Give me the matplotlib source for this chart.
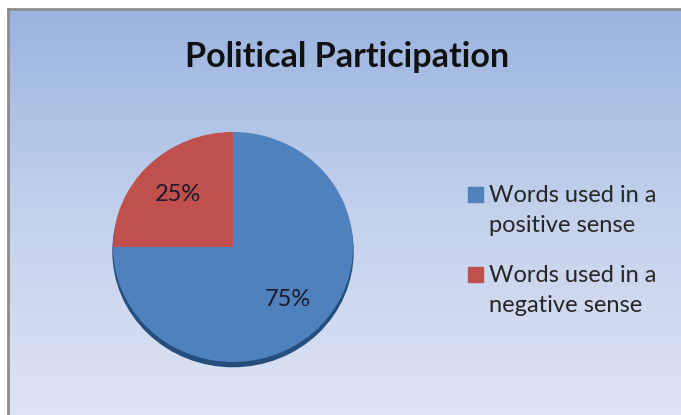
import matplotlib
matplotlib.use("Agg")
import matplotlib.pyplot as plt
import numpy as np
from matplotlib.patches import Ellipse, Rectangle
from matplotlib.colors import LinearSegmentedColormap

title = "Political Participation"
categories = ["Words used in a\npositive sense", "Words used in a\nnegative sense"]
values = [75, 25]
colors = ["#4F81BD", "#C0504D"]

W, H = 681, 415
fig = plt.figure(figsize=(W / 100, H / 100), dpi=100)
fig.patch.set_facecolor("white")

# background gradient panel
bg = fig.add_axes([0, 0, 1, 1])
bg.set_xlim(0, W)
bg.set_ylim(H, 0)
bg.axis("off")
cmap = LinearSegmentedColormap.from_list("bg", ["#9AB3E0", "#C3D1EC", "#DDE4F3"])
grad = np.linspace(0, 1, 256).reshape(-1, 1)
bg.imshow(grad, cmap=cmap, extent=(9, W, H, 10), aspect="auto", zorder=0)
bg.plot([8, 8], [9, H], color="#8C8C8C", lw=2, zorder=1)
bg.plot([8, W], [9, 9], color="#8C8C8C", lw=2, zorder=1)

fig.text(347 / W, 1 - 57 / H, title, ha="center", va="center",
         fontsize=24.5, fontweight="bold", family="Lato", color="#111111")

# pie (slightly flattened as in the 3-D-looking original)
ax = fig.add_axes([113 / W, (H - 362) / H, 240 / W, 230 / H])
wedges, texts, autotexts = ax.pie(values, colors=colors, startangle=90, counterclock=False,
                                  autopct="%d%%", pctdistance=0.65, radius=1.0,
                                  textprops=dict(fontsize=17, family="Lato", color="#1A1A2A"))
ax.add_patch(Ellipse((0, -0.04), 2.0, 2.0, color="#254E7D", zorder=0, clip_on=False))
for w in wedges:
    w.set_zorder(1)
for t in autotexts:
    t.set_zorder(2)
ax.set_aspect("auto")
ax.set_xlim(-1.0, 1.0)
ax.set_ylim(-1.0, 1.0)
ax.axis("off")

# legend (square aligned with first line of each entry)
tops = [185, 265]
for lab, col, top in zip(categories, colors, tops):
    bg.add_patch(Rectangle((468, top + 2), 15, 15, color=col, zorder=2))
    bg.text(489, top, lab, ha="left", va="top", fontsize=17, family="Lato",
            color="#262626", linespacing=1.55, zorder=2)

fig.savefig("out.png", dpi=100)
